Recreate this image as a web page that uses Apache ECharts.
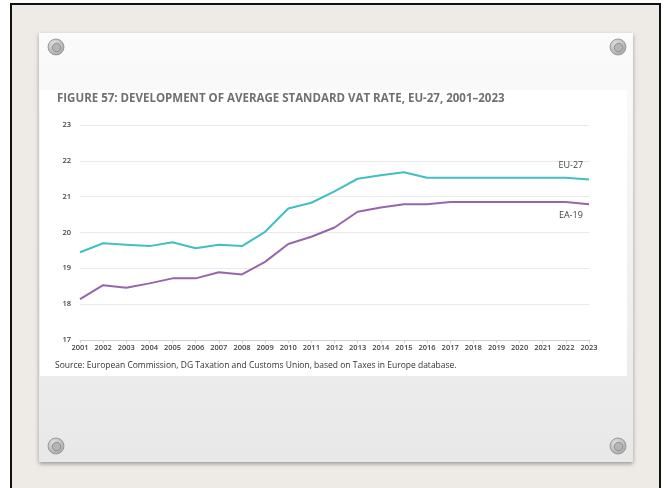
<!DOCTYPE html>
<html>
<head>
<meta charset="utf-8">
<script src="https://cdn.jsdelivr.net/npm/echarts@6/dist/echarts.min.js"></script>
<style>
html,body{margin:0;padding:0;background:#ffffff;}
#chart{width:667px;height:488px;}
</style>
</head>
<body>
<div id="chart"></div>
<script>
const years = ['2001','2002','2003','2004','2005','2006','2007','2008','2009','2010','2011','2012','2013','2014','2015','2016','2017','2018','2019','2020','2021','2022','2023'];
const eu27 = [19.45,19.70,19.66,19.62,19.73,19.56,19.66,19.62,20.02,20.67,20.83,21.15,21.50,21.60,21.68,21.53,21.53,21.53,21.53,21.53,21.53,21.53,21.48];
const ea19 = [18.14,18.53,18.46,18.58,18.72,18.72,18.89,18.83,19.18,19.68,19.88,20.14,20.58,20.70,20.79,20.79,20.85,20.85,20.85,20.85,20.85,20.85,20.79];
const seriesNames = ['EU-27','EA-19'];
const titleText = 'FIGURE 57: DEVELOPMENT OF AVERAGE STANDARD VAT RATE, EU-27, 2001\u20132023';
const sourceText = 'Source: European Commission, DG Taxation and Customs Union, based on Taxes in Europe database.';
const labelIndex = 21;

const chart = echarts.init(document.getElementById('chart'), null, {renderer:'canvas'});

function screw(cx, cy){
  return [
    {type:'circle', shape:{cx:cx, cy:cy, r:8}, z:-5,
      style:{fill:new echarts.graphic.RadialGradient(0.4,0.35,0.8,[{offset:0,color:'#e6e6e6'},{offset:1,color:'#9a9a9a'}]), stroke:'#8e8e8e', lineWidth:0.8}},
    {type:'circle', shape:{cx:cx+0.5, cy:cy+0.5, r:4.2}, z:-4,
      style:{fill:'#b5b5b5', stroke:'#858585', lineWidth:0.8}}
  ];
}

function nameMark(name, arr, pos, dist){
  return {
    symbol:'circle', symbolSize:1, silent:true,
    itemStyle:{color:'rgba(0,0,0,0)'},
    label:{show:true, position:pos, distance:dist, offset:[5,0], formatter:name, color:'#444', fontSize:9, fontFamily:'Open Sans'},
    data:[{coord:[years[labelIndex], arr[labelIndex]]}]
  };
}

const option = {
  animation:false,
  backgroundColor:'#ffffff',
  graphic:[
    {type:'rect', shape:{x:11, y:4, width:649, height:500}, z:-20,
      style:{fill:'#eeebe6', stroke:'#111', lineWidth:2}},
    {type:'rect', shape:{x:39, y:33, width:594, height:429}, z:-15,
      style:{fill:new echarts.graphic.LinearGradient(0,0,0,1,[{offset:0,color:'#fbfbfb'},{offset:0.5,color:'#f2f2f2'},{offset:1,color:'#e8e8e8'}]),
        shadowBlur:4, shadowColor:'rgba(0,0,0,0.35)', shadowOffsetY:2}},
    {type:'rect', shape:{x:40, y:90, width:587, height:286}, z:-10,
      style:{fill:'#ffffff'}},
    ...screw(56,47), ...screw(618,47), ...screw(56,446), ...screw(618,446),
    {type:'text', left:55, top:361, z:5,
      style:{text:sourceText, fill:'#333', fontSize:8.5, fontFamily:'Open Sans'}}
  ],
  title:{
    text:titleText, left:52, top:88,
    textStyle:{color:'#707070', fontSize:11.5, fontWeight:'bold', fontFamily:'Open Sans'}
  },
  grid:{left:80, right:78, top:125, bottom:148},
  xAxis:{
    type:'category', data:years, boundaryGap:false,
    axisLine:{lineStyle:{color:'#d0d0d0', width:1}},
    axisTick:{show:true, length:3, lineStyle:{color:'#d0d0d0'}},
    axisLabel:{color:'#444', fontSize:7.5, fontFamily:'Open Sans', fontWeight:600, margin:4, interval:0}
  },
  yAxis:{
    type:'value', min:17, max:23, interval:1,
    axisLine:{show:false}, axisTick:{show:false},
    axisLabel:{color:'#444', fontSize:7.5, fontFamily:'Open Sans', fontWeight:600, margin:9},
    splitLine:{lineStyle:{color:'#e9e9e9', width:1}}
  },
  series:[
    {name:seriesNames[0], type:'line', data:eu27, symbol:'none',
      lineStyle:{color:'#42bfc2', width:2}, itemStyle:{color:'#42bfc2'},
      markPoint:nameMark(seriesNames[0], eu27, 'top', 7)},
    {name:seriesNames[1], type:'line', data:ea19, symbol:'none',
      lineStyle:{color:'#9665ae', width:2}, itemStyle:{color:'#9665ae'},
      markPoint:nameMark(seriesNames[1], ea19, 'bottom', 8)}
  ]
};
chart.setOption(option);
</script>
</body>
</html>
